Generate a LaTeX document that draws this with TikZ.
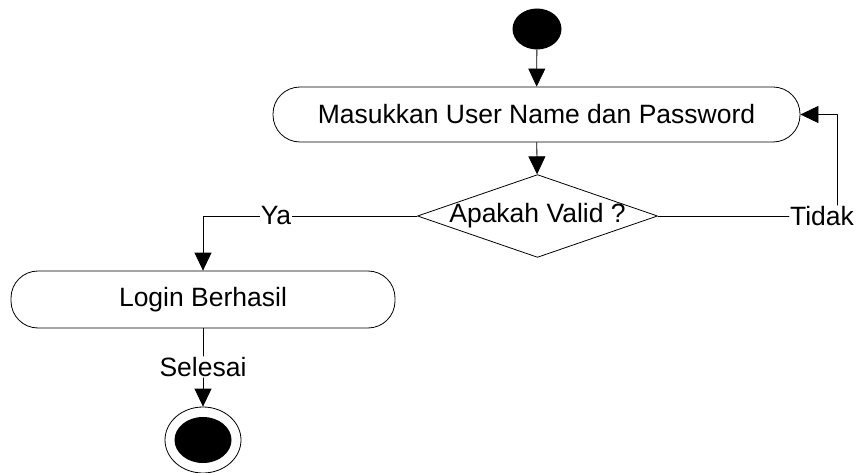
\documentclass[tikz,border=0pt]{standalone}
\usepackage{fontspec}
\setmainfont{Liberation Sans}
\usetikzlibrary{shapes.geometric,arrows.meta}

\begin{document}
\begin{tikzpicture}[x=1pt, y=-1pt, line cap=round, line join=round,
  every node/.style={font=\fontsize{26.5}{30}\selectfont},
  garis/.style={line width=0.8pt},
  panah/.style={garis, -{Triangle[width=17pt,length=18pt]}},
  aktivitas/.style={draw, garis, rounded corners=27pt, inner sep=0pt},
  teks/.style={inner sep=1pt}]

\useasboundingbox (0,0) rectangle (859,473);

% 起点
\node[ellipse, fill, minimum width=49pt, minimum height=41pt, inner sep=0pt] (mulai) at (537,29) {};

% 输入用户名和密码
\node[aktivitas, minimum width=527pt, minimum height=55pt] (masuk) at (536.5,114.5) {Masukkan User Name dan Password};

% 判断
\node[diamond, draw, garis, aspect=2.9, inner sep=-1pt] (valid) at (537.5,216) {Apakah Valid ?};

% 登录成功
\node[aktivitas, minimum width=384pt, minimum height=57pt] (login) at (203,299.5) {Login Berhasil};

% 终点(外圈 + 内圈)
\node[ellipse, draw, garis, minimum width=76pt, minimum height=66pt, inner sep=0pt] (akhir) at (203,440) {};
\node[ellipse, fill, minimum width=57pt, minimum height=46pt, inner sep=0pt] (akhirdalam) at (akhir) {};

% 分支标签
\node[teks] (ya) at (276,216) {Ya};
\node[teks] (tidak) at (822,216) {Tidak};
\node[teks] (selesai) at (203,367) {Selesai};
\coordinate (belok) at (837,216);

% 连线
\draw[panah] (mulai) -- (masuk);
\draw[panah] (masuk) -- (valid);
\draw[garis] (valid.west) -- (ya.east);
\draw[panah] (ya.west) -| (login.north);
\draw[garis] (valid.east) -- (tidak.west);
\draw[panah] (tidak.north -| belok) |- (masuk.east);
\draw[garis] (login.south) -- (selesai.north);
\draw[panah] (selesai.south) -- (akhir.north);

\end{tikzpicture}
\end{document}
